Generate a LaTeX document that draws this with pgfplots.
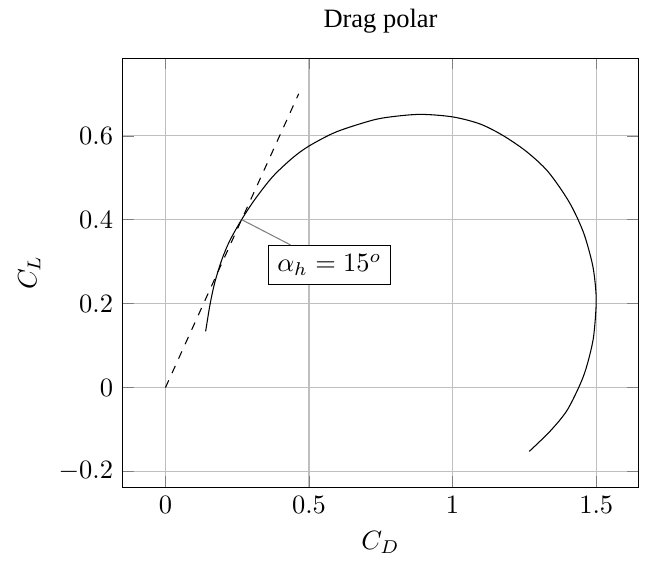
\documentclass[border=0pt]{standalone}
\usepackage{fontspec}
\setmainfont{Liberation Serif}
\usepackage{pgfplots}
\pgfplotsset{compat=1.18}

% drag polar curve
\pgfplotstableread{
cd     cl
0.140  0.134
0.155  0.197
0.172  0.251
0.197  0.306
0.224  0.350
0.265  0.400
0.311  0.448
0.374  0.503
0.444  0.548
0.501  0.576
0.594  0.609
0.715  0.636
0.784  0.645
0.888  0.651
1.000  0.645
1.096  0.628
1.177  0.600
1.258  0.562
1.333  0.514
1.406  0.442
1.455  0.371
1.485  0.300
1.496  0.252
1.500  0.200
1.490  0.117
1.465  0.046
1.439  0.000
1.396  -0.057
1.338  -0.105
1.267  -0.152
}\polar

\begin{document}
\begin{tikzpicture}
\begin{axis}[
  title={Drag polar},
  xlabel={$C_D$}, ylabel={$C_L$},
  xmin=-0.15, xmax=1.648,
  ymin=-0.237, ymax=0.785,
  xtick={0,0.5,1,1.5},
  ytick={-0.2,0,0.2,0.4,0.6},
  grid=major,
]
\addplot[black, smooth] table[x=cd, y=cl] {\polar};
\addplot[black, dashed] coordinates {(0,0) (0.464,0.700)};
\node[draw, fill=white] (lbl) at (axis cs:0.571,0.292) {$\alpha_h = 15^o$};
\draw[gray] (axis cs:0.266,0.400) -- (lbl);
\end{axis}
% blank room round the axis, as in the reference
\path (current bounding box.west) ++(-3.6pt,0) coordinate (l);
\path (current axis.east) ++(7.3pt,0) coordinate (r);
\path (l) -- (r);
\end{tikzpicture}
\end{document}
